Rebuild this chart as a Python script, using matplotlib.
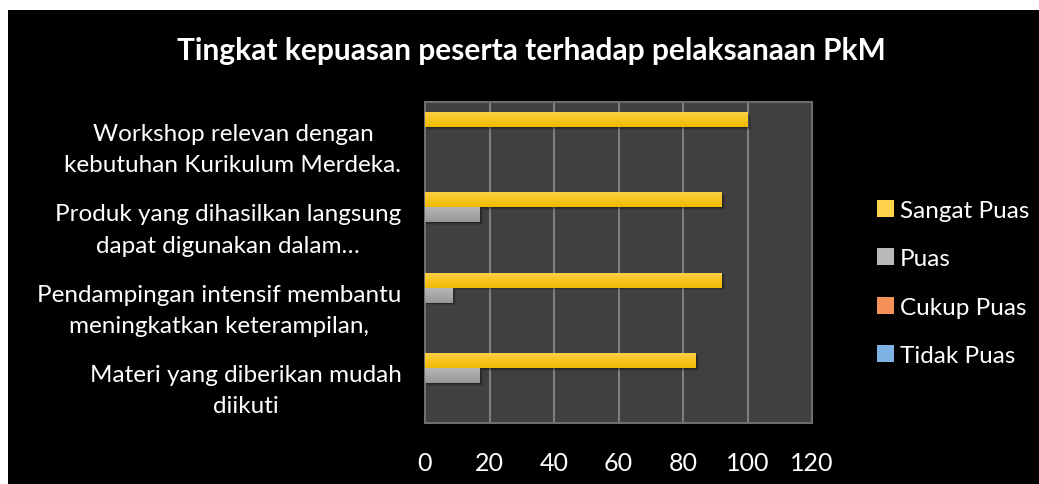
import numpy as np
import matplotlib
matplotlib.use("Agg")
import matplotlib.pyplot as plt
from matplotlib.patches import Rectangle, Patch
from matplotlib.colors import LinearSegmentedColormap

# data (bottom category first)
kategori = ["Materi yang diberikan mudah\ndiikuti",
            "Pendampingan intensif membantu\nmeningkatkan keterampilan,",
            "Produk yang dihasilkan langsung\ndapat digunakan dalam\u2026",
            "Workshop relevan dengan\nkebutuhan Kurikulum Merdeka."]
sangat_puas = [84, 92, 92, 100]
puas = [17, 8.5, 17, 0]
cukup_puas = [0, 0, 0, 0]
tidak_puas = [0, 0, 0, 0]
seri = ["Sangat Puas", "Puas", "Cukup Puas", "Tidak Puas"]
xticks = [0, 20, 40, 60, 80, 100, 120]

warna = {"Sangat Puas": ("#FFD24A", "#F0B900"),
         "Puas": ("#B9B9B9", "#979797"),
         "Cukup Puas": ("#F4925A", "#E36C1F"),
         "Tidak Puas": ("#7DB2E2", "#4A8BC9")}

plt.rcParams['font.family'] = ['Lato', 'DejaVu Sans']

fig = plt.figure(figsize=(10.39, 4.85), dpi=100, facecolor="white")
fig.patches.append(Rectangle((8/1039, 0), 1, 1 - 11/485, transform=fig.transFigure,
                             facecolor="black", edgecolor="none", zorder=-5))

ax = fig.add_axes([425/1039, 61/485, 387/1039, 321/485])
ax.set_facecolor("#404040")

h = 0.1875
y = np.arange(len(kategori))
nilai = [sangat_puas, puas, cukup_puas, tidak_puas]
offset = [1.5 * h, 0.5 * h, -0.5 * h, -1.5 * h]
for nama, val, off in zip(seri, nilai, offset):
    bars = ax.barh(y + off, val, height=h, color=warna[nama][1], zorder=3, linewidth=0)
    cmap = LinearSegmentedColormap.from_list(nama, [warna[nama][1], warna[nama][0]])
    for b in bars:
        if b.get_width() <= 0:
            continue
        x0, y0 = b.get_x(), b.get_y()
        w, hh = b.get_width(), b.get_height()
        # bayangan lembut
        for k, a in [(0.035, 0.12), (0.022, 0.15), (0.011, 0.18)]:
            ax.add_patch(Rectangle((x0, y0 - k), w + k * 30, hh, facecolor="black",
                                   alpha=a, edgecolor="none", zorder=2))
        grad = np.linspace(0, 1, 50).reshape(-1, 1)
        im = ax.imshow(grad, cmap=cmap, aspect="auto", origin="lower",
                       extent=[x0, x0 + w, y0, y0 + hh], zorder=4)
        im.set_clip_path(b)

ax.set_xlim(0, 120)
ax.set_ylim(-0.5, 3.5)
ax.set_xticks(xticks)
ax.set_xticklabels([str(t) for t in xticks])
ax.set_yticks(y)
ax.set_yticklabels(kategori, linespacing=1.6, multialignment="center")
ax.grid(axis="x", color="#8C8C8C", linewidth=1.2, zorder=1)
ax.tick_params(axis="both", length=0, colors="white")
ax.tick_params(axis="y", pad=17, labelsize=17.5)
ax.tick_params(axis="x", pad=20, labelsize=18)
for s in ax.spines.values():
    s.set_color("#6E6E6E")
    s.set_linewidth(1.5)

fig.text(531/1039, 1 - 60/485, "Tingkat kepuasan peserta terhadap pelaksanaan PkM",
         ha="center", va="baseline", color="white", fontsize=21.5, fontweight="bold")

handles = [Patch(facecolor=warna[n][0], edgecolor="none") for n in seri]
leg = fig.legend(handles, seri, loc="center left", bbox_to_anchor=(855/1039, 1 - 284/485),
                 frameon=False, fontsize=17.5, labelcolor="white", handlelength=0.7,
                 handleheight=0.7, handletextpad=0.25, labelspacing=1.13)

fig.savefig("out.png", dpi=100, facecolor="white")
